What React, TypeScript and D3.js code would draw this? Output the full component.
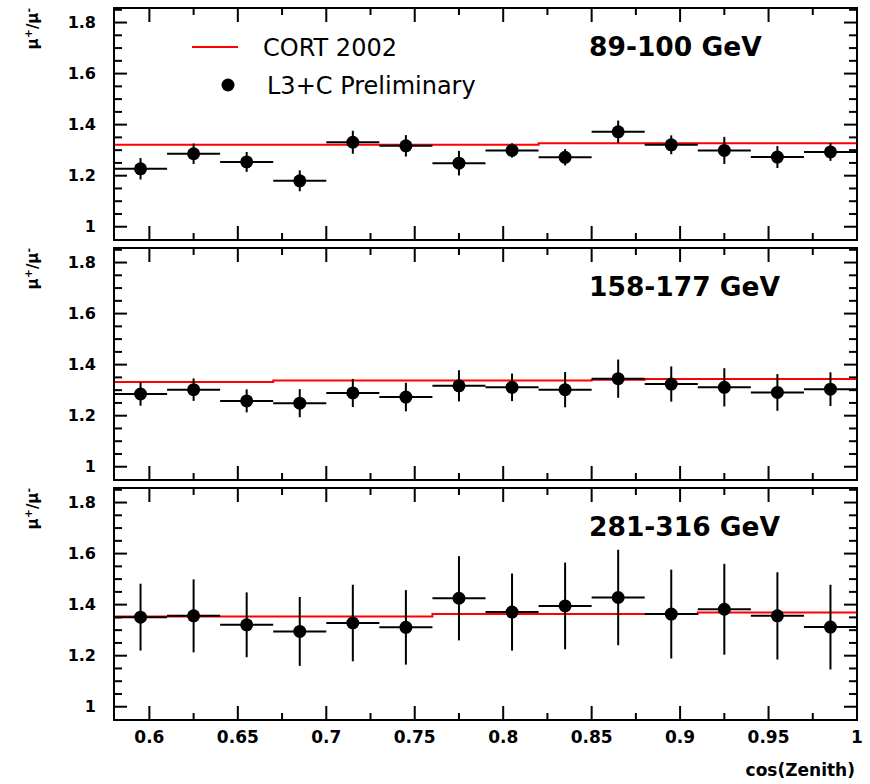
import React from "react";
import * as d3 from "d3";

// ---- data ----
const binCenters = [0.595, 0.625, 0.655, 0.685, 0.715, 0.745, 0.775, 0.805, 0.835, 0.865, 0.895, 0.925, 0.955, 0.985];
const binHalfWidth = 0.015;

const panelTitles = ["89-100 GeV", "158-177 GeV", "281-316 GeV"];

const ratio89 = [1.227, 1.286, 1.254, 1.18, 1.331, 1.317, 1.249, 1.299, 1.272, 1.372, 1.321, 1.299, 1.273, 1.293];
const err89 = [0.042, 0.04, 0.039, 0.041, 0.045, 0.042, 0.048, 0.028, 0.032, 0.044, 0.037, 0.053, 0.043, 0.035];
const cort89 = [1.321, 1.321, 1.321, 1.321, 1.321, 1.321, 1.321, 1.321, 1.327, 1.327, 1.327, 1.327, 1.327, 1.327];

const ratio158 = [1.285, 1.302, 1.258, 1.249, 1.289, 1.273, 1.317, 1.311, 1.302, 1.345, 1.324, 1.311, 1.291, 1.304];
const err158 = [0.046, 0.044, 0.045, 0.055, 0.055, 0.056, 0.061, 0.054, 0.069, 0.075, 0.069, 0.075, 0.072, 0.066];
const cort158 = [1.332, 1.332, 1.332, 1.338, 1.338, 1.338, 1.338, 1.338, 1.338, 1.341, 1.344, 1.344, 1.344, 1.344];

const ratio281 = [1.351, 1.356, 1.321, 1.295, 1.328, 1.311, 1.425, 1.371, 1.395, 1.428, 1.363, 1.382, 1.356, 1.312];
const err281 = [0.131, 0.143, 0.127, 0.135, 0.15, 0.146, 0.165, 0.151, 0.17, 0.187, 0.174, 0.178, 0.171, 0.166];
const cort281 = [1.354, 1.354, 1.354, 1.354, 1.354, 1.354, 1.363, 1.363, 1.363, 1.363, 1.363, 1.369, 1.369, 1.369];

const xMajorTicks = [0.6, 0.65, 0.7, 0.75, 0.8, 0.85, 0.9, 0.95, 1];
const xTickLabels = ["0.6", "0.65", "0.7", "0.75", "0.8", "0.85", "0.9", "0.95", "1"];
const yMajorTicks = [1, 1.2, 1.4, 1.6, 1.8];
const yTickLabels = ["1", "1.2", "1.4", "1.6", "1.8"];

const legendLine = "CORT 2002";
const legendPoints = "L3+C Preliminary";
const xTitle = "cos(Zenith)";

const panels = [
  { title: panelTitles[0], ratio: ratio89, err: err89, cort: cort89 },
  { title: panelTitles[1], ratio: ratio158, err: err158, cort: cort158 },
  { title: panelTitles[2], ratio: ratio281, err: err281, cort: cort281 },
];

// ---- layout ----
const W = 870;
const H = 784;
const left = 114;
const right = 857;
const panelTops = [8, 248, 488];
const panelH = 232;
const FONT = "'DejaVu Sans', sans-serif";

const x = d3.scaleLinear().domain([0.58, 1.0]).range([left, right]);
const xMinor = d3.range(0.6, 1.0001, 0.025);
const yMinor = d3.range(0.95, 1.8501, 0.05);

function Panel({ idx }: { idx: number }) {
  const p = panels[idx];
  const top = panelTops[idx];
  const bottom = top + panelH;
  const y = d3.scaleLinear().domain([0.948, 1.857]).range([bottom, top]);
  const steps: [number, number][] = [];
  binCenters.forEach((c, i) => {
    steps.push([c - binHalfWidth, p.cort[i]]);
    steps.push([c + binHalfWidth, p.cort[i]]);
  });
  const line = d3
    .line<[number, number]>()
    .x((d) => x(d[0]))
    .y((d) => y(d[1]));
  const isMajorY = (v: number) => yMajorTicks.some((t) => Math.abs(t - v) < 1e-6);
  const isMajorX = (v: number) => xMajorTicks.some((t) => Math.abs(t - v) < 1e-6);
  return (
    <g>
      {/* x ticks top & bottom */}
      {xMinor.map((v, i) => {
        const len = isMajorX(v) ? 14 : 7;
        const xx = x(v);
        return (
          <g key={"xt" + i} stroke="#000" strokeWidth={2}>
            <line x1={xx} x2={xx} y1={top} y2={top + len} />
            <line x1={xx} x2={xx} y1={bottom} y2={bottom - len} />
          </g>
        );
      })}
      {/* y ticks left & right */}
      {yMinor
        .filter((v) => y(v) > top + 1 && y(v) < bottom - 1)
        .map((v, i) => {
          const len = isMajorY(v) ? 13 : 8;
          const yy = y(v);
          return (
            <g key={"yt" + i} stroke="#000" strokeWidth={2}>
              <line x1={left} x2={left + len} y1={yy} y2={yy} />
              <line x1={right} x2={right - len} y1={yy} y2={yy} />
            </g>
          );
        })}
      {yMajorTicks.map((v, i) => (
        <text
          key={"yl" + i}
          x={96}
          y={y(v)}
          dy="0.36em"
          textAnchor="end"
          fontFamily={FONT}
          fontWeight="bold"
          fontSize={16}
          fill="#000"
        >
          {yTickLabels[i]}
        </text>
      ))}
      {/* y title */}
      <text
        transform={`translate(38,${top}) rotate(-90)`}
        textAnchor="end"
        fontFamily={FONT}
        fontWeight="bold"
        fontSize={15}
        fill="#000"
      >
        μ<tspan dy={-6} fontSize={11}>+</tspan>
        <tspan dy={6}>/μ</tspan>
        <tspan dy={-6} fontSize={11}>-</tspan>
      </text>
      {/* CORT histogram */}
      <path d={line(steps) || ""} fill="none" stroke="#ff0000" strokeWidth={2} />
      {/* data */}
      {binCenters.map((c, i) => {
        const cx = x(c);
        const cy = y(p.ratio[i]);
        return (
          <g key={"pt" + i}>
            <line
              x1={x(c - binHalfWidth)}
              x2={x(c + binHalfWidth)}
              y1={cy}
              y2={cy}
              stroke="#000"
              strokeWidth={2}
            />
            <line
              x1={cx}
              x2={cx}
              y1={y(p.ratio[i] - p.err[i])}
              y2={y(p.ratio[i] + p.err[i])}
              stroke="#000"
              strokeWidth={2}
            />
            <circle cx={cx} cy={cy} r={6.5} fill="#000" />
          </g>
        );
      })}
      {/* frame */}
      <rect x={left} y={top} width={right - left} height={panelH} fill="none" stroke="#000" strokeWidth={2} />
      {/* title */}
      <text x={589} y={top + 48} fontFamily={FONT} fontWeight="bold" fontSize={26.5} fill="#000">
        {p.title}
      </text>
    </g>
  );
}

export default function App() {
  const lastBottom = panelTops[2] + panelH;
  return (
    <svg
      width={W}
      height={H}
      viewBox={`0 0 ${W} ${H}`}
      style={{ position: "absolute", left: 0, top: 0, background: "#fff", display: "block" }}
    >
      <rect x={0} y={0} width={W} height={H} fill="#fff" />
      {panels.map((_, i) => (
        <Panel key={i} idx={i} />
      ))}
      {xMajorTicks.map((v, i) => (
        <text
          key={"xl" + i}
          x={x(v)}
          y={lastBottom + 23}
          textAnchor="middle"
          fontFamily={FONT}
          fontWeight="bold"
          fontSize={17}
          fill="#000"
        >
          {xTickLabels[i]}
        </text>
      ))}
      <text x={855} y={776} textAnchor="end" fontFamily={FONT} fontWeight="bold" fontSize={17} fill="#000">
        {xTitle}
      </text>
      {/* legend */}
      <line x1={192} x2={238} y1={47} y2={47} stroke="#ff0000" strokeWidth={2} />
      <text x={263} y={47} dy="0.36em" fontFamily={FONT} fontSize={24} fill="#000">
        {legendLine}
      </text>
      <circle cx={228} cy={85} r={6.5} fill="#000" />
      <text x={267} y={85} dy="0.36em" fontFamily={FONT} fontSize={24} fill="#000">
        {legendPoints}
      </text>
    </svg>
  );
}
